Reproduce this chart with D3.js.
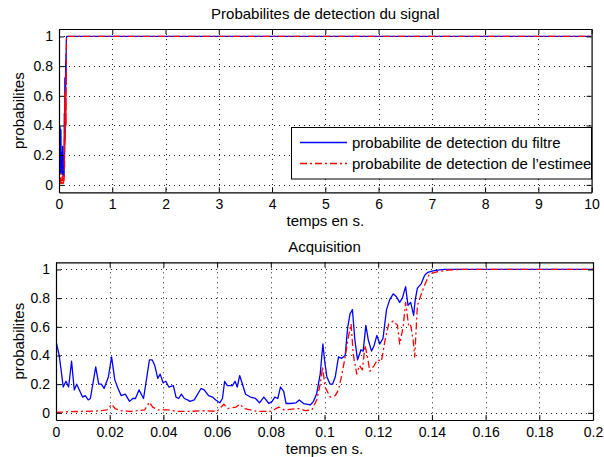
<!DOCTYPE html>
<html><head><meta charset="utf-8">
<script src="https://cdn.jsdelivr.net/npm/d3@7"></script>
<style>
body{margin:0;background:#fff;}
svg{display:block;font-family:"Liberation Sans",Arial,Helvetica,sans-serif;}
</style></head>
<body><svg id="c" width="604" height="457"></svg>
<script>
// ---- data ----
const filtreT = [0,0.0012,0.0027,0.0037,0.0047,0.0058,0.0068,0.0077,0.0099,0.0109,0.0120,0.0128,0.0148,0.0159,0.0169,0.0179,0.0195,0.0207,0.0219,0.0231,0.0243,0.0258,0.0274,0.0286,0.0296,0.0309,0.0326,0.0348,0.0358,0.0368,0.0379,0.0388,0.0399,0.0409,0.0420,0.0437,0.0447,0.0457,0.0467,0.0478,0.0490,0.0499,0.0515,0.0540,0.0552,0.0568,0.0583,0.0595,0.0610,0.0620,0.0628,0.0638,0.0647,0.0657,0.0667,0.0675,0.0684,0.0691,0.0706,0.0724,0.0743,0.0758,0.0774,0.0793,0.0805,0.0815,0.0826,0.0836,0.0848,0.0857,0.0873,0.0894,0.0906,0.0922,0.0947,0.0959,0.0971,0.0984,0.0994,0.1000,0.1009,0.1021,0.1030,0.1040,0.1052,0.1064,0.1077,0.1086,0.1095,0.1104,0.1113,0.1123,0.1136,0.1144,0.1154,0.1163,0.1175,0.1185,0.1195,0.1206,0.1218,0.1231,0.1243,0.1256,0.1268,0.1280,0.1290,0.1302,0.1311,0.1321,0.1332,0.1338,0.1346,0.1360,0.1373,0.1385,0.1404,0.1422,0.1447,0.2];
const filtreP = [0.50,0.40,0.18,0.22,0.18,0.36,0.16,0.20,0.11,0.12,0.09,0.10,0.32,0.20,0.20,0.17,0.25,0.39,0.23,0.17,0.12,0.13,0.08,0.10,0.10,0.16,0.10,0.37,0.37,0.33,0.24,0.27,0.21,0.22,0.18,0.19,0.11,0.10,0.13,0.10,0.09,0.08,0.09,0.17,0.16,0.12,0.11,0.09,0.07,0.10,0.22,0.19,0.19,0.19,0.22,0.18,0.26,0.22,0.13,0.11,0.10,0.07,0.11,0.065,0.08,0.11,0.10,0.18,0.15,0.065,0.065,0.07,0.09,0.065,0.055,0.08,0.135,0.27,0.48,0.37,0.25,0.20,0.20,0.25,0.39,0.38,0.40,0.59,0.69,0.72,0.51,0.37,0.44,0.43,0.61,0.51,0.43,0.47,0.54,0.48,0.52,0.72,0.79,0.83,0.81,0.77,0.80,0.88,0.75,0.77,0.68,0.79,0.87,0.90,0.96,0.98,0.99,0.995,1.0,1.0];
const estimeeT = [0,0.005,0.010,0.015,0.019,0.0207,0.022,0.024,0.028,0.033,0.0348,0.036,0.038,0.042,0.045,0.050,0.055,0.060,0.0625,0.064,0.067,0.0685,0.070,0.075,0.080,0.083,0.085,0.0904,0.0928,0.0953,0.0971,0.0984,0.0993,0.1002,0.1021,0.1040,0.1052,0.1064,0.1077,0.1089,0.1099,0.1107,0.1120,0.1130,0.1141,0.1151,0.1160,0.1169,0.1185,0.1197,0.1212,0.1226,0.1239,0.1256,0.1272,0.1280,0.1293,0.1302,0.1314,0.1321,0.1330,0.1336,0.1346,0.1361,0.1373,0.1391,0.1422,0.1459,0.150,0.2];
const estimeeP = [0.003,0.008,0.010,0.012,0.02,0.06,0.03,0.015,0.01,0.02,0.075,0.04,0.02,0.02,0.01,0.01,0.015,0.01,0.06,0.03,0.04,0.06,0.03,0.01,0.01,0.04,0.02,0.03,0.015,0.02,0.09,0.20,0.32,0.18,0.11,0.12,0.16,0.26,0.39,0.53,0.62,0.41,0.27,0.33,0.30,0.47,0.39,0.29,0.33,0.37,0.36,0.51,0.62,0.64,0.61,0.48,0.60,0.77,0.60,0.61,0.51,0.39,0.75,0.83,0.89,0.97,0.985,0.995,1.0,1.0];
// full-run tail (signal stays detected until the end of the run)
const tailT = [10];
const tailP = [1.0];

const topXTicks = [0,1,2,3,4,5,6,7,8,9,10];
const botXTicks = [0,0.02,0.04,0.06,0.08,0.1,0.12,0.14,0.16,0.18,0.2];
const yTicks = [0,0.2,0.4,0.6,0.8,1];
const titles = ["Probabilites de detection du signal","Acquisition"];
const xLabel = "temps en s.";
const yLabel = "probabilites";
const legendLabels = ["probabilite de detection du filtre","probabilite de detection de l\u2019estimee"];
const colors = ["#0000ff","#ff0000"];

// ---- drawing ----
const svg = d3.select("#c");
const FS = 15, TFS = 14;
const DASHDOT = "7,3,2,3";

function zip(ts, ps){ return ts.map((t,i)=>({t:t,p:ps[i]})); }

function panel(box, xDomain, xTicks, xFmt, series, title, id){
  const x = d3.scaleLinear().domain(xDomain).range([box.x0, box.x1]);
  const y = d3.scaleLinear().domain([-0.05,1.05]).range([box.y1, box.y0]);
  const g = svg.append("g");
  g.append("clipPath").attr("id",id).append("rect")
    .attr("x",box.x0).attr("y",box.y0).attr("width",box.x1-box.x0).attr("height",box.y1-box.y0);
  // grid
  g.append("g").selectAll("line").data(xTicks.slice(1,-1)).join("line")
    .attr("x1",d=>Math.round(x(d))+0.5).attr("x2",d=>Math.round(x(d))+0.5)
    .attr("y1",box.y0).attr("y2",box.y1)
    .attr("stroke","#222").attr("stroke-width",1).attr("stroke-dasharray","1,4");
  g.append("g").selectAll("line").data(yTicks).join("line")
    .attr("y1",d=>Math.round(y(d))+0.5).attr("y2",d=>Math.round(y(d))+0.5)
    .attr("x1",box.x0).attr("x2",box.x1)
    .attr("stroke","#222").attr("stroke-width",1).attr("stroke-dasharray","1,4");
  // series
  const line = d3.line().x(d=>x(d.t)).y(d=>y(d.p));
  series.forEach(s=>{
    g.append("path").datum(s.data).attr("clip-path","url(#"+id+")")
      .attr("d",line).attr("fill","none").attr("stroke",s.color)
      .attr("stroke-width",1.3).attr("stroke-linejoin","round")
      .attr("stroke-dasharray",s.dash||null);
  });
  // axes: ticks inward, on all four sides
  const ax = [
    d3.axisBottom(x).tickValues(xTicks).tickFormat(xFmt).tickSizeInner(-5).tickSizeOuter(0).tickPadding(7),
    d3.axisLeft(y).tickValues(yTicks).tickFormat(d3.format("~g")).tickSizeInner(-5).tickSizeOuter(0).tickPadding(6),
    d3.axisTop(x).tickValues(xTicks).tickFormat("").tickSizeInner(-5).tickSizeOuter(0),
    d3.axisRight(y).tickValues(yTicks).tickFormat("").tickSizeInner(-5).tickSizeOuter(0)
  ];
  const pos = [[0,box.y1],[box.x0,0],[0,box.y0],[box.x1,0]];
  ax.forEach((a,i)=>{
    const ga = g.append("g").attr("transform","translate("+pos[i][0]+","+pos[i][1]+")").call(a);
    ga.selectAll(".domain").attr("stroke","#000").attr("stroke-width",1.2);
    ga.selectAll(".tick line").attr("stroke","#000");
    ga.selectAll("text").attr("font-size",TFS).attr("fill","#000").attr("font-family",null);
  });
  // titles
  const cx = (box.x0+box.x1)/2;
  g.append("text").attr("x",cx).attr("y",box.y0-10.5).attr("text-anchor","middle")
    .attr("font-size",FS).text(title);
  g.append("text").attr("x",cx).attr("y",box.y1+33.5).attr("text-anchor","middle")
    .attr("font-size",FS).text(xLabel);
  g.append("text").attr("transform","translate(24,"+((box.y0+box.y1)/2)+") rotate(-90)")
    .attr("text-anchor","middle").attr("font-size",FS).text(yLabel);
  return {x,y,g};
}

const filtre = zip(filtreT, filtreP), estimee = zip(estimeeT, estimeeP);
const fmtTop = d3.format("~g");
const fmtBot = d=> d===0 ? "0" : d3.format("~g")(d);

panel({x0:59,x1:591.6,y0:29,y1:192.3},[0,10],topXTicks,fmtTop,
  [{data:filtre.concat(zip(tailT,tailP)),color:colors[0]},
   {data:estimee.concat(zip(tailT,tailP)),color:colors[1],dash:DASHDOT}],
  titles[0],"c1");

panel({x0:56,x1:593,y0:262.3,y1:420},[0,0.2],botXTicks,fmtBot,
  [{data:filtre,color:colors[0]},
   {data:estimee,color:colors[1],dash:DASHDOT}],
  titles[1],"c2");

// legend
const lg = svg.append("g");
lg.append("rect").attr("x",291.5).attr("y",127.5).attr("width",300).attr("height",51.5)
  .attr("fill","#fff").attr("stroke","#000").attr("stroke-width",1);
legendLabels.forEach((lab,i)=>{
  const yy = 142.5 + i*21;
  lg.append("line").attr("x1",300).attr("x2",347).attr("y1",yy).attr("y2",yy)
    .attr("stroke",colors[i]).attr("stroke-width",1.3)
    .attr("stroke-dasharray", i===1 ? DASHDOT : null);
  lg.append("text").attr("x",352).attr("y",yy+5).attr("font-size",FS).text(lab);
});
</script></body></html>
